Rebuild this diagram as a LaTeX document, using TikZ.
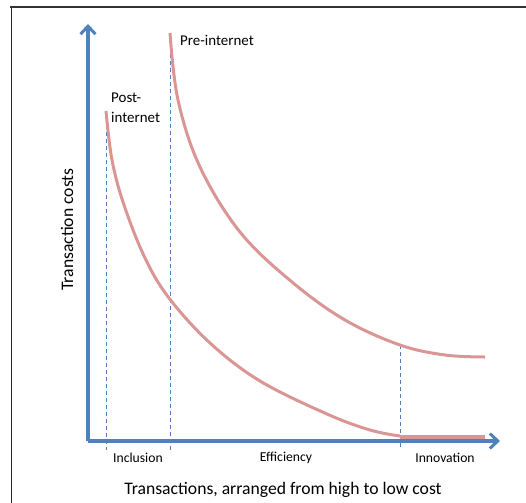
\documentclass[tikz,border=0pt]{standalone}
\usepackage{fontspec}
\setmainfont{Carlito}
\usetikzlibrary{arrows.meta}
\definecolor{axisblue}{RGB}{79,129,189}
\definecolor{curvered}{RGB}{217,150,148}
\tikzset{
  axisline/.style={draw=axisblue, line width=3.2bp, line join=miter,
    -{Straight Barb[length=8bp,width=15bp,line width=3bp]}},
  costcurve/.style={draw=curvered, line width=3bp},
  divider/.style={draw=axisblue, line width=0.9bp, dash pattern=on 4bp off 3bp},
  lbl/.style={inner sep=0pt, font=\fontsize{15}{20}\selectfont},
  tick/.style={inner sep=0pt, font=\fontsize{13.7}{16}\selectfont},
  axtitle/.style={inner sep=0pt, font=\fontsize{17.7}{20}\selectfont}
}
\begin{document}
\begin{tikzpicture}[x={(1bp,0)}, y={(0,-1bp)}]
  \useasboundingbox (0,0) rectangle (526,503);
  % outer frame (top and left edges)
  \draw[line width=1bp, black!85] (11,503) -- (11,7);
  \draw[line width=2bp, black!80] (10,7) -- (526,7);

  % axes
  \coordinate (O) at (88,441);
  \coordinate (ytip) at (88,24);
  \coordinate (xtip) at (500,441);
  \draw[axisline] (O) -- (ytip);
  \draw[axisline] (O) -- (xtip);

  % dividers between regions
  \coordinate (d1t) at (106,111);
  \coordinate (d1b) at (106,450);
  \coordinate (d2t) at (170,33);
  \coordinate (d2b) at (170,450);
  \coordinate (d3t) at (400,345);
  \coordinate (d3b) at (400,450);
  \draw[divider] (d1t) -- (d1b);
  \draw[divider] (d2t) -- (d2b);
  \draw[divider] (d3t) -- (d3b);

  % cost curves
  \draw[costcurve] plot[smooth, tension=0.6] coordinates
    {(170,33) (178,100) (200,167) (240,232) (292,282) (345,320) (400,345) (445,355) (485,357)};
  \draw[costcurve] plot[smooth, tension=0.6] coordinates
    {(106,111) (112,160) (124,205) (145,258) (169,298) (210,343) (260,381) (327,414) (370,430) (400,436)};
  \draw[costcurve, line width=4bp] (400,436.5) -- (485,436.5);

  % labels
  \node[lbl, anchor=west] (pre) at (180,40) {Pre-internet};
  \node[lbl, anchor=west, align=left] (post) at (111,108) {Post-\\internet};
  \node[axtitle, rotate=90] (ylab) at (67,229.5) {Transaction costs};
  \node[tick] (incl) at (138,458) {Inclusion};
  \node[tick] (eff) at (286,458) {Efficiency};
  \node[tick] (inno) at (445,458) {Innovation};
  \node[axtitle] (xlab) at (283,490) {Transactions, arranged from high to low cost};
\end{tikzpicture}
\end{document}
